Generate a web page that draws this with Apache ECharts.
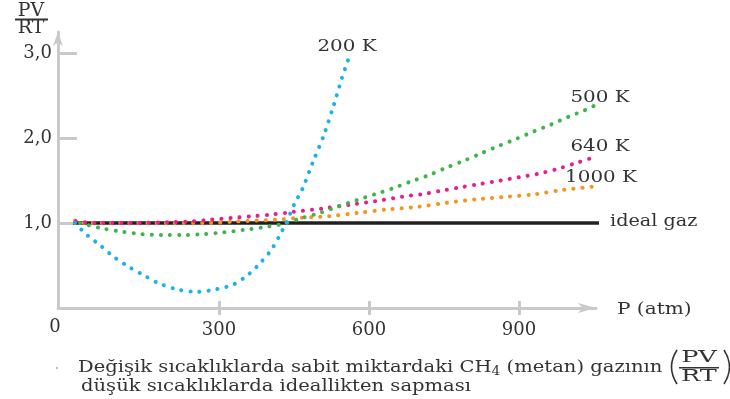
<!DOCTYPE html>
<html>
<head>
<meta charset="utf-8">
<script src="https://cdn.jsdelivr.net/npm/echarts@6/dist/echarts.min.js"></script>
<style>
html,body{margin:0;padding:0;background:#fff;}
#chart{width:730px;height:399px;}
</style>
</head>
<body>
<div id="chart"></div>
<script>
// ---- data ----
const seriesNames = ['200 K', '500 K', '640 K', '1000 K', 'ideal gaz'];
const xTickValues = [300, 600, 900];
const yTickValues = [1, 2, 3];

const p200 = [12, 36, 62, 88, 118, 148, 180, 216, 254, 294, 330, 360, 384, 404, 420, 434, 452, 466, 488, 510, 528, 546, 560];
const z200 = [1.0, 0.86, 0.74, 0.61, 0.49, 0.39, 0.29, 0.22, 0.19, 0.22, 0.28, 0.40, 0.54, 0.68, 0.84, 1.0, 1.24, 1.39, 1.72, 2.04, 2.36, 2.71, 2.95];

const p500 = [22, 64, 104, 144, 186, 228, 268, 308, 350, 388, 428, 466, 502, 540, 576, 612, 648, 684, 718, 754, 788, 824, 860, 894, 930, 964, 998, 1032, 1050];
const z500 = [1.0, 0.94, 0.90, 0.87, 0.86, 0.86, 0.87, 0.89, 0.92, 0.95, 0.99, 1.06, 1.12, 1.20, 1.27, 1.34, 1.41, 1.49, 1.56, 1.65, 1.73, 1.82, 1.91, 1.99, 2.08, 2.16, 2.25, 2.33, 2.38];

const p640 = [14, 60, 120, 200, 244, 284, 324, 364, 404, 446, 506, 566, 626, 666, 706, 744, 782, 822, 862, 900, 938, 978, 1016, 1052];
const z640 = [1.02, 1.0, 1.0, 1.01, 1.02, 1.04, 1.06, 1.08, 1.10, 1.13, 1.17, 1.22, 1.27, 1.31, 1.34, 1.38, 1.42, 1.46, 1.50, 1.54, 1.58, 1.64, 1.71, 1.78];

const p1000 = [12, 36, 120, 200, 280, 336, 376, 416, 456, 518, 578, 636, 696, 756, 816, 876, 932, 988, 1066];
const z1000 = [1.03, 1.0, 1.0, 1.0, 1.0, 1.02, 1.03, 1.04, 1.06, 1.08, 1.12, 1.16, 1.19, 1.24, 1.28, 1.31, 1.34, 1.39, 1.44];

const pIdeal = [8, 1066];
const zIdeal = [1.0, 1.0];

// ---- build ----
const pairs = (xs, ys) => xs.map((x, i) => [x, ys[i]]);
const SERIF = '"DejaVu Serif", "Liberation Serif", serif';
const TXT = '#333';
const AX = '#c9c9c9';

function dotted(name, data, color) {
  return {
    name, type: 'line', data, showSymbol: false, smooth: 0.3, clip: false,
    lineStyle: { color, width: 4, type: [0.1, 9], cap: 'round' },
    silent: true, z: 3
  };
}

const chart = echarts.init(document.getElementById('chart'), null, { renderer: 'canvas' });

function txt(text, x, y, align, size, sx, extraStyle) {
  return {
    type: 'text', x, y, scaleX: sx || 1, silent: true,
    style: Object.assign({
      text, fill: TXT, fontFamily: SERIF, fontSize: size || 16,
      align: align || 'center', verticalAlign: 'middle',
      textAlign: align || 'center', textVerticalAlign: 'middle'
    }, extraStyle || {})
  };
}

const option = {
  animation: false,
  backgroundColor: '#fff',
  grid: { left: 58, right: 134, top: 32, bottom: 91, containLabel: false },
  xAxis: [{
    type: 'value', min: -22, max: 1054,
    axisLine: { show: true, onZero: false, lineStyle: { color: AX, width: 3 }, symbol: ['none', 'arrow'], symbolSize: [7.5, 18] },
    axisTick: { show: true, customValues: xTickValues, length: 7, lineStyle: { color: AX, width: 3 } },
    axisLabel: { customValues: xTickValues, color: TXT, fontFamily: SERIF, fontSize: 18, margin: 13 },
    splitLine: { show: false }
  }, {
    type: 'value', min: -22, max: 1054, position: 'bottom',
    axisLine: { show: false, onZero: false },
    axisTick: { show: true, inside: true, customValues: xTickValues, length: 7, lineStyle: { color: AX, width: 3 } },
    axisLabel: { show: false },
    splitLine: { show: false }
  }],
  yAxis: {
    type: 'value', min: 0, max: 3.25,
    axisLine: { show: true, onZero: false, lineStyle: { color: AX, width: 3 }, symbol: ['none', 'arrow'], symbolSize: [7.5, 14] },
    axisTick: { show: true, inside: true, customValues: yTickValues, length: 19, lineStyle: { color: AX, width: 3 } },
    axisLabel: { customValues: yTickValues, color: TXT, fontFamily: SERIF, fontSize: 18, margin: 6,
      formatter: v => v.toFixed(1).replace('.', ',') },
    splitLine: { show: false }
  },
  series: [
    {
      name: seriesNames[4], type: 'line', data: pairs(pIdeal, zIdeal), showSymbol: false, clip: false,
      lineStyle: { color: '#231f20', width: 3.5 }, silent: true, z: 2
    },
    dotted(seriesNames[3], pairs(p1000, z1000), '#f7941d'),
    dotted(seriesNames[2], pairs(p640, z640), '#ec1a8c'),
    dotted(seriesNames[1], pairs(p500, z500), '#3db54a'),
    dotted(seriesNames[0], pairs(p200, z200), '#1cb1ee')
  ],
  graphic: [
    // axis title fraction PV/RT
    txt('PV', 31, 11, 'center', 18, 1.05),
    { type: 'rect', silent: true, shape: { x: 15, y: 18.5, width: 33, height: 2 }, style: { fill: TXT } },
    txt('RT', 31, 28, 'center', 18, 1.05),
    txt('0', 55, 327, 'center', 18),
    txt('P (atm)', 617, 310, 'left', 17, 1.18),
    // series labels
    txt(seriesNames[0], 347, 47, 'center', 17, 1.17),
    txt(seriesNames[1], 600, 98, 'center', 17, 1.17),
    txt(seriesNames[2], 600, 147, 'center', 17, 1.17),
    txt(seriesNames[3], 601, 178, 'center', 17, 1.17),
    txt(seriesNames[4], 610, 222, 'left', 17, 1.13),
    // caption
    { type: 'circle', silent: true, shape: { cx: 57, cy: 368, r: 1 }, style: { fill: '#aaa' } },
    {
      type: 'text', x: 78, y: 368, scaleX: 1.15, silent: true,
      style: {
        text: 'Değişik sıcaklıklarda sabit miktardaki CH{sub|4} (metan) gazının',
        fill: TXT, fontFamily: SERIF, fontSize: 17, align: 'left', verticalAlign: 'middle',
        textAlign: 'left', textVerticalAlign: 'middle', lineHeight: 20,
        rich: { sub: { fontSize: 12, fontFamily: SERIF, fill: TXT, verticalAlign: 'bottom', lineHeight: 12, padding: [8, 0, 0, 0] } }
      }
    },
    txt('düşük sıcaklıklarda ideallikten sapması', 81, 387, 'left', 17, 1.15),
    { type: 'bezierCurve', silent: true, shape: { x1: 677, y1: 350, x2: 677, y2: 384, cpx1: 666, cpy1: 367 }, style: { stroke: TXT, lineWidth: 1.6, fill: null } },
    { type: 'bezierCurve', silent: true, shape: { x1: 724, y1: 350, x2: 724, y2: 384, cpx1: 735, cpy1: 367 }, style: { stroke: TXT, lineWidth: 1.6, fill: null } },
    txt('PV', 699, 358, 'center', 17, 1.5),
    { type: 'rect', silent: true, shape: { x: 679, y: 367, width: 40, height: 1.6 }, style: { fill: TXT } },
    txt('RT', 699, 377, 'center', 17, 1.5)
  ]
};
chart.setOption(option);
</script>
</body>
</html>
